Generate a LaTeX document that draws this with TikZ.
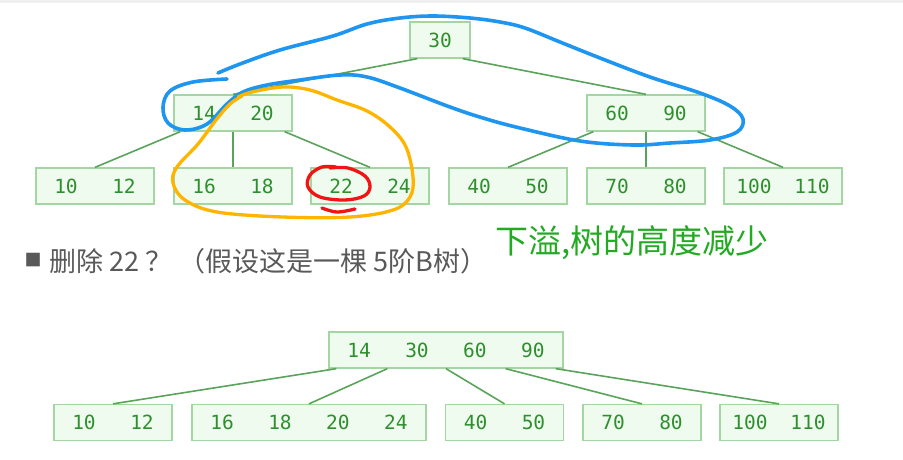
\documentclass[tikz,border=0pt]{standalone}
\usepackage{fontspec}
\newfontfamily\cjk{Noto Sans CJK SC}
\newfontfamily\keyfont{DejaVu Sans Mono}
\definecolor{boxfill}{HTML}{EEFBEE}
\definecolor{boxline}{HTML}{A3D6A3}
\definecolor{keytxt}{HTML}{2F8F2F}
\definecolor{edgec}{HTML}{5AA35A}
\definecolor{graytxt}{HTML}{595959}
\definecolor{greentxt}{HTML}{22AA22}
\definecolor{hlblue}{HTML}{1E96F0}
\definecolor{hlorange}{HTML}{FFB400}
\definecolor{hlred}{HTML}{F01414}
\newcommand{\kk}[1]{\makebox[58pt]{#1}}
\begin{document}
\begin{tikzpicture}[x=1pt,y=-1pt,
 bbox/.style={draw=boxline,fill=boxfill,line width=1.3pt,minimum height=36pt,inner xsep=1pt,inner ysep=0pt,text=keytxt,font=\keyfont\fontsize{19.5}{19.5}\selectfont},
 edge/.style={draw=edgec,line width=1.6pt},
 pen/.style={line width=3.6pt,line cap=round,line join=round}]
\useasboundingbox (0,0) rectangle (903,459);
\fill[black!6] (0,0) rectangle (903,3);
% top tree
\node[bbox] (r30) at (440,40) {\kk{30}};
\node[bbox] (n1420) at (233,113) {\kk{14}\kk{20}};
\node[bbox] (n6090) at (646,113) {\kk{60}\kk{90}};
\node[bbox] (l1012) at (95,186) {\kk{10}\kk{12}};
\node[bbox] (l1618) at (233,186) {\kk{16}\kk{18}};
\node[bbox] (l2224) at (370,186) {\kk{22}\kk{24}};
\node[bbox] (l4050) at (508,186) {\kk{40}\kk{50}};
\node[bbox] (l7080) at (646,186) {\kk{70}\kk{80}};
\node[bbox] (l100) at (783,186) {\kk{100}\kk{110}};
\draw[edge] ([xshift=8pt]r30.south west) -- (n1420.north);
\draw[edge] ([xshift=-8pt]r30.south east) -- (n6090.north);
\draw[edge] ([xshift=7pt]n1420.south west) -- (l1012.north);
\draw[edge] (n1420.south) -- (l1618.north);
\draw[edge] ([xshift=-8pt]n1420.south east) -- (l2224.north);
\draw[edge] ([xshift=7pt]n6090.south west) -- (l4050.north);
\draw[edge] (n6090.south) -- (l7080.north);
\draw[edge] ([xshift=-8pt]n6090.south east) -- (l100.north);
% text
\node[font=\cjk\fontsize{17}{17}\selectfont,text=graytxt] (sq) at (33,260) {■};
\node[anchor=west,font=\cjk\fontsize{27}{27}\selectfont,text=graytxt] (q) at (46,261) {删除 22 ？ （假设这是一棵 5阶B树）};
\node[anchor=west,font=\cjk\fontsize{33}{33}\selectfont,text=greentxt] (note) at (492,243) {下溢,树的高度减少};
% bottom tree
\node[bbox] (R) at (446,350) {\kk{14}\kk{30}\kk{60}\kk{90}};
\node[bbox] (b1012) at (113,422.5) {\kk{10}\kk{12}};
\node[bbox] (b16) at (309,422.5) {\kk{16}\kk{18}\kk{20}\kk{24}};
\node[bbox] (b4050) at (504.5,422.5) {\kk{40}\kk{50}};
\node[bbox] (b7080) at (642,422.5) {\kk{70}\kk{80}};
\node[bbox] (b100) at (779,422.5) {\kk{100}\kk{110}};
\draw[edge] ([xshift=8pt]R.south west) -- (b1012.north);
\draw[edge] ([xshift=59pt]R.south west) -- (b16.north);
\draw[edge] (R.south) -- (b4050.north);
\draw[edge] ([xshift=-58pt]R.south east) -- (b7080.north);
\draw[edge] ([xshift=-8pt]R.south east) -- (b100.north);
% hand-drawn marks
\draw[pen,hlblue] plot[smooth,tension=0.6] coordinates {(218,73) (240,64) (280,50) (333,36) (367,24) (400,18) (433,16) (470,18) (500,22) (525,28) (560,42) (600,58) (650,77) (700,93) (730,106) (743,119) (737,132) (710,140) (670,143) (633,145) (580,141) (520,128) (483,118) (450,107) (400,88) (367,77) (340,75) (300,80) (267,85) (243,92) (227,104) (207,124) (185,130) (168,123) (163,107) (170,91) (193,82) (227,79)};
\draw[pen,hlorange,line width=3.3pt] plot[smooth,tension=0.6] coordinates {(238,97) (252,92) (283,87) (310,90) (337,100) (367,111) (390,127) (406,147) (413,177) (410,197) (393,210) (350,217) (283,217) (217,212) (185,200) (173,183) (177,167) (198,144) (216,120) (230,104) (242,96)};
\draw[pen,hlred,line width=3.3pt] plot[smooth,tension=0.6] coordinates {(330,168) (348,168) (365,176) (370,187) (364,196) (345,200) (320,197) (308,187) (310,175) (322,167) (336,167)};
\draw[pen,hlred,line width=3.3pt] plot[smooth,tension=0.6] coordinates {(322,208) (337,212) (355,209)};
\end{tikzpicture}
\end{document}
